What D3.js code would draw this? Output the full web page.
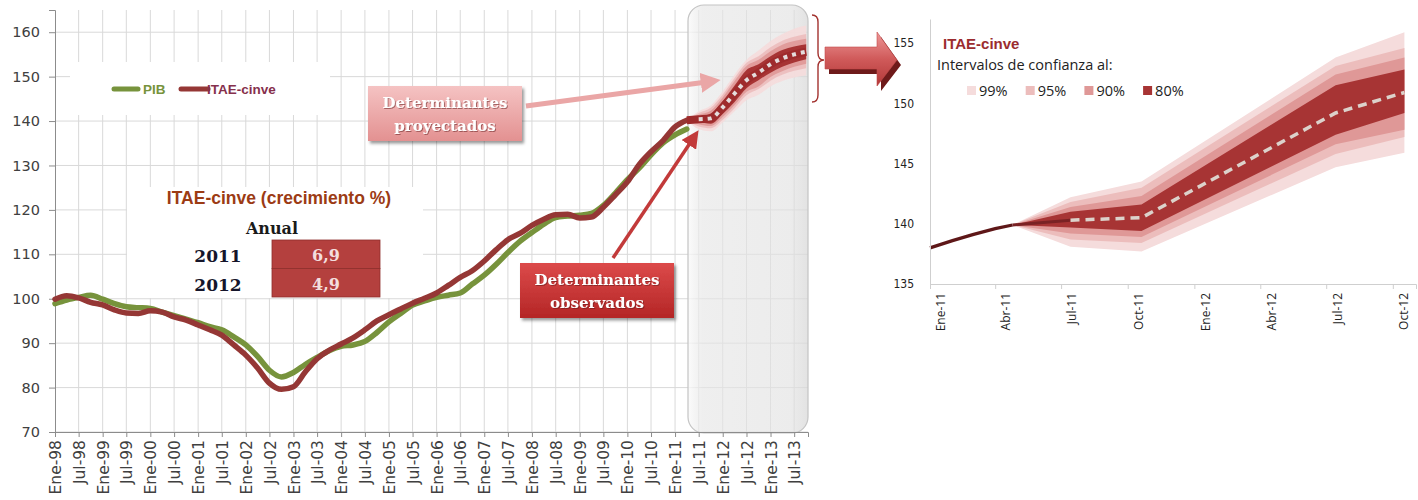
<!DOCTYPE html>
<html>
<head>
<meta charset="utf-8">
<script src="https://cdn.jsdelivr.net/npm/d3@7"></script>
<style>
body{margin:0;background:#fff;}
svg{display:block;}
</style>
</head>
<body>
<div id="chart"></div>
<script>
// ---- datos ----
var meses = ["Ene","Feb","Mar","Abr","May","Jun","Jul","Ago","Sep","Oct","Nov","Dic"];

var trimestres = ["1998-01","1998-04","1998-07","1998-10","1999-01","1999-04","1999-07","1999-10",
  "2000-01","2000-04","2000-07","2000-10","2001-01","2001-04","2001-07","2001-10",
  "2002-01","2002-04","2002-07","2002-10","2003-01","2003-04","2003-07","2003-10",
  "2004-01","2004-04","2004-07","2004-10","2005-01","2005-04","2005-07","2005-10",
  "2006-01","2006-04","2006-07","2006-10","2007-01","2007-04","2007-07","2007-10",
  "2008-01","2008-04","2008-07","2008-10","2009-01","2009-04","2009-07","2009-10",
  "2010-01","2010-04","2010-07","2010-10","2011-01","2011-04"];
var pib = [98.9,99.7,100.3,100.8,99.9,98.9,98.2,98.0,
  97.8,97.0,96.2,95.4,94.6,93.7,93.0,91.4,
  89.6,87.0,83.9,82.4,83.4,85.2,86.8,88.3,
  89.3,89.6,90.4,92.4,94.8,96.7,98.6,99.5,
  100.3,100.8,101.3,103.3,105.3,107.7,110.4,112.9,
  114.9,116.8,118.3,118.6,118.8,119.2,121.0,123.8,
  126.8,129.4,132.4,135.1,136.9,138.2];
var itae = [99.9,100.7,100.2,99.2,98.6,97.5,96.8,96.7,
  97.3,97.0,95.9,95.2,94.1,93.0,91.8,89.6,
  87.3,84.4,81.0,79.6,80.2,83.5,86.5,88.4,
  89.8,91.2,93.0,95.0,96.4,97.7,99.0,100.1,
  101.3,103.0,104.8,106.3,108.5,111.0,113.3,114.7,
  116.5,117.9,118.9,119.0,118.2,118.4,120.6,123.4,
  126.3,130.2,133.1,135.6,138.7,140.2];

// proyeccion en el grafico de la izquierda
var proyFechas = ["2011-04","2011-07","2011-10","2012-01","2012-04","2012-07","2012-10","2013-01","2013-04","2013-07","2013-10"];
var proyMedia = [140.2,140.4,140.6,143.1,146.2,149.2,150.9,152.8,154.1,155.0,155.6];
var proyLo80 = [140.2,139.8,139.4,141.6,144.3,147.4,149.2,150.9,152.2,153.2,153.9];
var proyHi80 = [140.2,141.0,141.7,144.5,148.0,151.5,152.8,154.6,156.0,156.8,157.3];
var proyLo90 = [140.2,139.3,138.9,140.9,143.6,146.6,147.8,149.9,151.2,152.2,152.9];
var proyHi90 = [140.2,141.4,142.3,145.3,149.0,152.4,153.8,155.7,157.2,158.0,158.5];
var proyLo95 = [140.2,138.8,138.4,140.3,142.9,145.8,147.2,149.1,150.4,151.3,151.9];
var proyHi95 = [140.2,141.8,143.0,146.0,149.7,153.1,154.6,156.6,158.1,159.0,159.6];
var proyLo99 = [140.2,138.2,137.7,139.7,142.2,144.7,145.9,147.8,149.0,149.8,150.3];
var proyHi99 = [140.2,142.2,143.5,146.7,150.5,153.8,155.9,158.0,159.6,160.8,161.5];

// detalle (grafico de la derecha)
var obsFechas = ["2011-01-01","2011-02-01","2011-03-01","2011-04-01","2011-04-25"];
var obsItae = [138.0,138.6,139.1,139.6,139.9];
var detFechas = ["2011-04-25","2011-07-14","2011-10-20","2012-07-14","2012-10-17"];
var detMedia = [139.9,140.3,140.5,149.2,150.9];
var detLo80 = [139.9,139.7,139.4,147.4,149.2];
var detHi80 = [139.9,141.0,141.6,151.5,152.8];
var detLo90 = [139.9,139.2,138.9,146.6,147.8];
var detHi90 = [139.9,141.4,142.3,152.4,153.8];
var detLo95 = [139.9,138.7,138.4,145.8,147.2];
var detHi95 = [139.9,141.8,143.0,153.1,154.6];
var detLo99 = [139.9,138.1,137.7,144.7,145.9];
var detHi99 = [139.9,142.2,143.5,153.8,155.9];

var niveles = ["99%","95%","90%","80%"];
var crecAnios = ["2011","2012"];
var crecValores = ["6,9","4,9"];
var ticksIzqY = [70,80,90,100,110,120,130,140,150,160];
var ticksDerY = [135,140,145,150,155];

// ---- colores ----
var colPib = "#77933c", colItae = "#953735";
var colBandas = ["#f5dcdc","#ecbdbc","#df9897","#a73434"];

var locale = d3.timeFormatLocale({dateTime:"%x %X", date:"%d/%m/%Y", time:"%H:%M:%S", periods:["AM","PM"],
  days:["Domingo","Lunes","Martes","Miércoles","Jueves","Viernes","Sábado"],
  shortDays:["Dom","Lun","Mar","Mié","Jue","Vie","Sáb"], months:meses, shortMonths:meses});
var fmt = locale.format("%b-%y");
var pMes = d3.timeParse("%Y-%m"), pDia = d3.timeParse("%Y-%m-%d");

var svg = d3.select("#chart").append("svg").attr("width",1418).attr("height",500)
  .style("font-family","'DejaVu Sans',sans-serif");
var defs = svg.append("defs");

function grad(id, stops, vertical){
  var g = defs.append("linearGradient").attr("id",id)
    .attr("x1",0).attr("y1",0).attr("x2",vertical?0:1).attr("y2",vertical?1:0);
  stops.forEach(function(s){ g.append("stop").attr("offset",s[0]).attr("stop-color",s[1]).attr("stop-opacity",s[2]===undefined?1:s[2]); });
}
grad("gCaja",[[0,"#fafafa",0.8],[0.12,"#e6e6e6",0.65],[0.85,"#e2e2e2",0.65],[1,"#d9d9d9",0.75]],false);
grad("gRosa",[[0,"#f5c3c3"],[1,"#e39191"]],true);
grad("gRojo",[[0,"#dc4a4a"],[1,"#b42626"]],true);
grad("gFlecha",[[0,"#ee9898"],[0.5,"#d05a5a"],[1,"#b23838"]],true);
defs.append("filter").attr("id","sombra").attr("x","-10%").attr("y","-10%").attr("width","130%").attr("height","140%")
  .append("feDropShadow").attr("dx",2).attr("dy",2.5).attr("stdDeviation",1.6).attr("flood-opacity",0.4);
defs.append("filter").attr("id","sombraTxt")
  .append("feDropShadow").attr("dx",1).attr("dy",1).attr("stdDeviation",0.6).attr("flood-color","#5a1010").attr("flood-opacity",0.5);
[["mRosa","#eaa6a6"],["mRojo","#c23a3a"]].forEach(function(m){
  defs.append("marker").attr("id",m[0]).attr("viewBox","0 0 10 10").attr("refX",2).attr("refY",5)
    .attr("markerWidth",m[0]=="mRosa"?4:5).attr("markerHeight",m[0]=="mRosa"?4:5).attr("orient","auto")
    .append("path").attr("d","M0,0 L10,5 L0,10 z").attr("fill",m[1]);
});

// ================= grafico izquierdo =================
var xL = d3.scaleTime().domain([new Date(1998,0,1), new Date(2013,9,15)]).range([55,808]);
var yL = d3.scaleLinear().domain([70,165]).range([432,10]);
var ticksIzqX = d3.timeMonth.every(6).range(new Date(1998,0,1), new Date(2013,9,2));

var gL = svg.append("g");
gL.selectAll(".gh").data(ticksIzqY).enter().append("line")
  .attr("x1",xL.range()[0]).attr("x2",xL.range()[1]).attr("y1",yL).attr("y2",yL)
  .attr("stroke","#d9d9d9");
gL.selectAll(".gv").data(ticksIzqX.slice(1)).enter().append("line")
  .attr("x1",xL).attr("x2",xL).attr("y1",yL.range()[1]).attr("y2",yL.range()[0])
  .attr("stroke","#d9d9d9");

// caja sombreada de la proyeccion
gL.append("rect").attr("x",688).attr("y",5).attr("width",120).attr("height",428).attr("rx",16)
  .attr("fill","url(#gCaja)").attr("stroke","#c4c4c4").attr("stroke-width",1.2);

// fondos blancos de leyenda y tabla
gL.append("rect").attr("x",70).attr("y",62).attr("width",260).attr("height",53).attr("fill","#fff");
gL.append("rect").attr("x",127).attr("y",187).attr("width",296).attr("height",111).attr("fill","#fff");

// ejes
var axL = gL.append("g").attr("transform","translate(0,432)")
  .call(d3.axisBottom(xL).tickValues(ticksIzqX).tickFormat(fmt).tickSize(5));
axL.select(".domain").attr("stroke","#8c8c8c");
axL.selectAll(".tick line").attr("stroke","#8c8c8c");
axL.selectAll("text").attr("transform","rotate(-90)").attr("x",-8).attr("y",0).attr("dy","0.36em")
  .attr("text-anchor","end").attr("fill","#404040").style("font-size","15.5px").style("font-family","'DejaVu Sans'");
var ayL = gL.append("g").attr("transform","translate(55,0)")
  .call(d3.axisLeft(yL).tickValues(ticksIzqY).tickSize(6).tickPadding(9));
ayL.select(".domain").attr("stroke","#8c8c8c");
ayL.selectAll(".tick line").attr("stroke","#8c8c8c");
ayL.selectAll("text").attr("fill","#404040").style("font-size","14.5px").style("font-family","'DejaVu Sans'");

// abanico de proyeccion
var proy = proyFechas.map(function(f,i){
  return {date:pMes(f), mid:proyMedia[i],
    b:[[proyLo99[i],proyHi99[i]],[proyLo95[i],proyHi95[i]],[proyLo90[i],proyHi90[i]],[proyLo80[i],proyHi80[i]]]};
});
niveles.forEach(function(n,k){
  gL.append("path").datum(proy).attr("fill",colBandas[k]).attr("opacity",k==3?1:0.9)
    .attr("d",d3.area().curve(d3.curveMonotoneX).x(function(d){return xL(d.date);})
      .y0(function(d){return yL(d.b[k][0]);}).y1(function(d){return yL(d.b[k][1]);}));
});

// series
var serie = trimestres.map(function(t,i){ return {date:pMes(t), pib:pib[i], itae:itae[i]}; });
var lineaL = function(key){ return d3.line().curve(d3.curveMonotoneX)
  .x(function(d){return xL(d.date);}).y(function(d){return yL(d[key]);}); };
gL.append("path").datum(serie).attr("fill","none").attr("stroke",colPib).attr("stroke-width",5.5)
  .attr("stroke-linejoin","round").attr("stroke-linecap","round").attr("d",lineaL("pib"));
gL.append("path").datum(serie).attr("fill","none").attr("stroke",colItae).attr("stroke-width",5.5)
  .attr("stroke-linejoin","round").attr("stroke-linecap","round").attr("d",lineaL("itae"));

// linea central proyectada
gL.append("path").datum(proy).attr("fill","none").attr("stroke","#9e2b2c").attr("stroke-width",8)
  .attr("d",lineaL("mid"));
gL.append("path").datum(proy.slice(1)).attr("fill","none").attr("stroke","#e4dcdc").attr("stroke-width",4)
  .attr("stroke-dasharray","4,5").attr("d",lineaL("mid"));

// leyenda
var leg = gL.append("g").style("font-family","'Liberation Sans',Arial,sans-serif").style("font-weight","bold").style("font-size","13.5px");
leg.append("line").attr("x1",114).attr("x2",138).attr("y1",89).attr("y2",89).attr("stroke",colPib).attr("stroke-width",5).attr("stroke-linecap","round");
leg.append("text").attr("x",143).attr("y",94).attr("fill",colPib).text("PIB");
leg.append("line").attr("x1",181).attr("x2",208).attr("y1",89).attr("y2",89).attr("stroke",colItae).attr("stroke-width",5).attr("stroke-linecap","round");
leg.append("text").attr("x",207).attr("y",94).attr("fill","#86304c").text("ITAE-cinve");

// tabla de crecimiento
var tab = gL.append("g");
tab.append("text").attr("x",279).attr("y",204).attr("text-anchor","middle").attr("fill","#9c3b14")
  .style("font-family","'Liberation Sans',Arial,sans-serif").style("font-weight","bold").style("font-size","17.5px")
  .text("ITAE-cinve (crecimiento %)");
tab.append("text").attr("x",272).attr("y",234).attr("text-anchor","middle").attr("fill","#1a1a1a")
  .style("font-family","'DejaVu Serif',serif").style("font-weight","bold").style("font-size","16px").text("Anual");
crecAnios.forEach(function(a,i){
  var y0 = 240 + i*28.5;
  tab.append("rect").attr("x",272).attr("y",y0).attr("width",108).attr("height",28.5)
    .attr("fill","#b4403e").attr("stroke","#8e2e2c").attr("stroke-width",0.8);
  tab.append("text").attr("x",218).attr("y",y0+22).attr("text-anchor","middle").attr("fill","#15152a")
    .style("font-family","'DejaVu Serif',serif").style("font-weight","bold").style("font-size","17px").text(a);
  tab.append("text").attr("x",326).attr("y",y0+21).attr("text-anchor","middle").attr("fill","#f3dede")
    .style("font-family","'DejaVu Serif',serif").style("font-weight","bold").style("font-size","16px").text(crecValores[i]);
});

// llamadas
function llamada(x, y, w, h, fill, lineas){
  var g = gL.append("g");
  g.append("rect").attr("x",x).attr("y",y).attr("width",w).attr("height",h).attr("fill",fill)
    .attr("filter","url(#sombra)");
  lineas.forEach(function(t,i){
    g.append("text").attr("x",x+w/2).attr("y",y+22+i*23).attr("text-anchor","middle").attr("fill","#fff")
      .attr("filter","url(#sombraTxt)")
      .style("font-family","'DejaVu Serif',serif").style("font-weight","bold").style("font-size","15px").text(t);
  });
}
gL.append("line").attr("x1",526).attr("y1",106).attr("x2",xL(new Date(2011,10,1))-10).attr("y2",yL(149.2)+2)
  .attr("stroke","#eaa6a6").attr("stroke-width",5).attr("marker-end","url(#mRosa)");
llamada(368,86,154,55,"url(#gRosa)",["Determinantes","proyectados"]);
gL.append("line").attr("x1",613).attr("y1",258).attr("x2",xL(new Date(2011,5,1))-4).attr("y2",yL(138)+12)
  .attr("stroke","#c23a3a").attr("stroke-width",3.5).attr("marker-end","url(#mRojo)");
llamada(520,263,154,55,"url(#gRojo)",["Determinantes","observados"]);

// llave y flecha grande
svg.append("path").attr("d","M812,15 Q818,15 818,22 L818,53 Q818,60 824,60 Q818,60 818,67 L818,95 Q818,102 812,102")
  .attr("fill","none").attr("stroke","#a3322f").attr("stroke-width",1.4);
var flecha = "M825,47 L877,47 L877,32 L897,60 L877,86 L877,69 L825,69 Z";
svg.append("path").attr("d",flecha).attr("transform","translate(4,5)").attr("fill","#6e1a1a");
svg.append("path").attr("d",flecha).attr("fill","url(#gFlecha)").attr("stroke","#c24a4a").attr("stroke-width",0.6);

// ================= grafico derecho =================
var xR = d3.scaleTime().domain([new Date(2011,0,1), new Date(2012,10,2)]).range([930,1416]);
var yR = d3.scaleLinear().domain([135,157]).range([284,19]);
var gR = svg.append("g");

var det = detFechas.map(function(f,i){
  return {date:pDia(f), mid:detMedia[i],
    b:[[detLo99[i],detHi99[i]],[detLo95[i],detHi95[i]],[detLo90[i],detHi90[i]],[detLo80[i],detHi80[i]]]};
});
niveles.forEach(function(n,k){
  gR.append("path").datum(det).attr("fill",colBandas[k])
    .attr("d",d3.area().x(function(d){return xR(d.date);})
      .y0(function(d){return yR(d.b[k][0]);}).y1(function(d){return yR(d.b[k][1]);}));
});
var lineaR = d3.line().x(function(d){return xR(d.date);}).y(function(d){return yR(d.v);});
var obs = obsFechas.map(function(f,i){ return {date:pDia(f), v:obsItae[i]}; });
gR.append("path").datum(obs).attr("fill","none")
  .attr("stroke","#5e1718").attr("stroke-width",3.2).attr("d",lineaR);
gR.append("path").datum(det.slice(0,2).map(function(d){return {date:d.date, v:d.mid};})).attr("fill","none")
  .attr("stroke","#7a2224").attr("stroke-width",3).attr("d",lineaR);
gR.append("path").datum(det.slice(1).map(function(d){return {date:d.date, v:d.mid};})).attr("fill","none")
  .attr("stroke","#dcd2cb").attr("stroke-width",3.5).attr("stroke-dasharray","9,6").attr("d",lineaR);

var axR = gR.append("g").attr("transform","translate(0,284)")
  .call(d3.axisBottom(xR).ticks(d3.timeMonth.every(3)).tickFormat(fmt).tickSize(5));
axR.select(".domain").attr("stroke","#cfcfcf");
axR.selectAll(".tick line").attr("stroke","#cfcfcf");
axR.selectAll("text").attr("transform","rotate(-90)").attr("x",-9).attr("y",10.5).attr("dy","0.36em")
  .attr("text-anchor","end").attr("fill","#222").style("font-size","12px").style("font-family","'Open Sans',sans-serif");
var ayR = gR.append("g").attr("transform","translate(930,0)")
  .call(d3.axisLeft(yR).tickValues(ticksDerY).tickSize(0).tickPadding(16));
ayR.select(".domain").attr("stroke","#cfcfcf");
ayR.selectAll("text").attr("fill","#222").style("font-size","12px").style("font-family","'Liberation Sans Narrow','DejaVu Sans Condensed',sans-serif");

// leyenda derecha
gR.append("text").attr("x",943).attr("y",49).attr("fill","#9b2c2f")
  .style("font-family","'Liberation Sans',Arial,sans-serif").style("font-weight","bold").style("font-size","15px").text("ITAE-cinve");
gR.append("text").attr("x",937).attr("y",70).attr("fill","#222")
  .style("font-family","'Open Sans',sans-serif").style("font-size","14.5px").text("Intervalos de confianza al:");
niveles.forEach(function(n,k){
  var x0 = 967 + k*58.7;
  gR.append("rect").attr("x",x0).attr("y",86).attr("width",9).attr("height",9).attr("fill",colBandas[k]);
  gR.append("text").attr("x",x0+12).attr("y",96).attr("fill","#222")
    .style("font-family","'Open Sans',sans-serif").style("font-size","14.5px").text(n);
});
</script>
</body>
</html>
